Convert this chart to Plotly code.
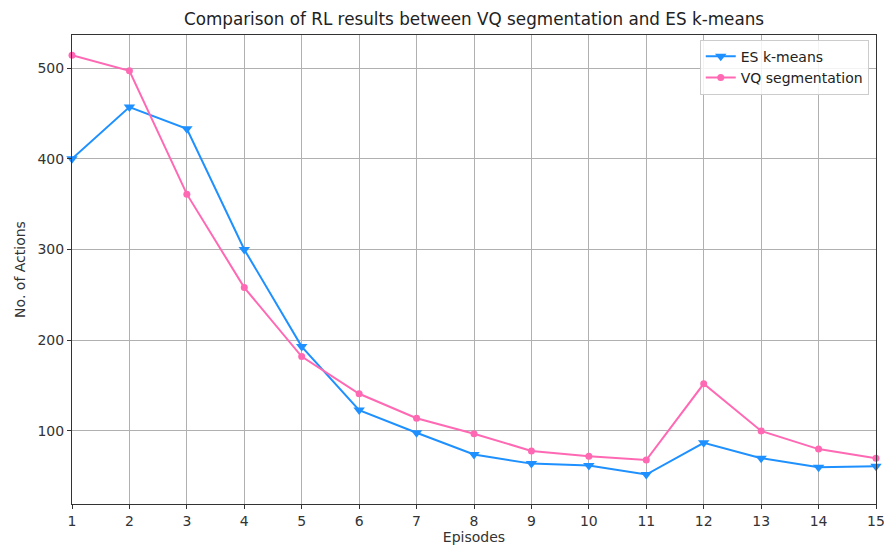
import plotly.graph_objects as go

episodes = list(range(1, 16))
es_kmeans = [400, 457, 433, 300, 193, 123, 98, 74, 64, 62, 52, 87, 70, 60, 61]
vq_seg = [514, 497, 361, 258, 182, 141, 114, 97, 78, 72, 68, 152, 100, 80, 70]
xticks = list(range(1, 16))
yticks = [100, 200, 300, 400, 500]

BLUE = "#1E90FF"
PINK = "#FF69B4"
FONT = "DejaVu Sans"

fig = go.Figure()
fig.add_trace(go.Scatter(
    x=episodes, y=es_kmeans, name="ES k-means", mode="lines+markers",
    line=dict(color=BLUE, width=2),
    marker=dict(symbol="triangle-down", size=10, color=BLUE),
    cliponaxis=False,
))
fig.add_trace(go.Scatter(
    x=episodes, y=vq_seg, name="VQ segmentation", mode="lines+markers",
    line=dict(color=PINK, width=2),
    marker=dict(symbol="circle", size=7, color=PINK),
    cliponaxis=False,
))

axis_common = dict(
    showgrid=True, gridcolor="#b0b0b0", gridwidth=1,
    showline=True, linecolor="#333333", linewidth=1, mirror=True,
    ticks="outside", ticklen=4, tickcolor="#333333",
    tickfont=dict(family=FONT, size=14, color="#333333"),
    zeroline=False, automargin=False, ticklabeloverflow="allow",
)

fig.update_layout(
    width=884, height=551,
    margin=dict(l=72, r=8, t=35, b=47),
    paper_bgcolor="white", plot_bgcolor="white",
    font=dict(family=FONT, color="#333333"),
    title=dict(text="Comparison of RL results between VQ segmentation and ES k-means",
               x=(72 + 876) / 2 / 884, xanchor="center", y=1 - 19 / 551, yanchor="middle",
               font=dict(family=FONT, size=16.8, color="#222222")),
    xaxis=dict(range=[1, 15], tickvals=xticks,
               title=dict(text="Episodes", font=dict(family=FONT, size=14, color="#333333"),
                          standoff=4),
               **axis_common),
    yaxis=dict(range=[19.5, 536.4], tickvals=yticks,
               title=dict(text="No. of Actions", font=dict(family=FONT, size=14, color="#333333"),
                          standoff=8),
               **axis_common),
    legend=dict(x=0.991, xanchor="right", y=0.99, yanchor="top",
                bgcolor="rgba(255,255,255,0.85)", bordercolor="#cccccc", borderwidth=1,
                font=dict(family=FONT, size=14, color="#222222"),
                tracegroupgap=0, itemwidth=30),
    showlegend=True,
)

fig.write_html("out.html")
